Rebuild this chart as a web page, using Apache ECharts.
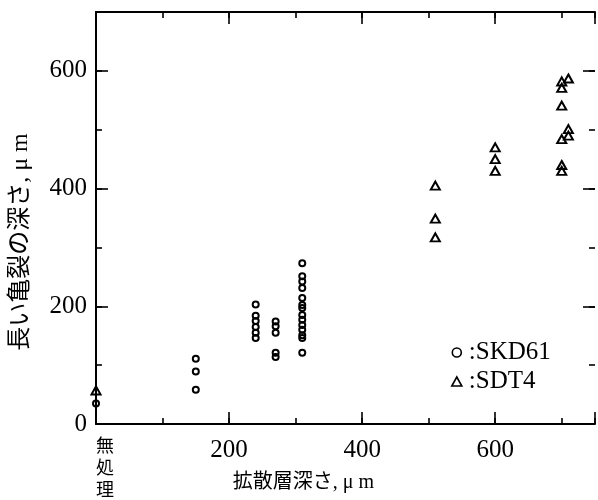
<!DOCTYPE html>
<html>
<head>
<meta charset="utf-8">
<script src="https://cdn.jsdelivr.net/npm/echarts@6/dist/echarts.min.js"></script>
<style>
  html, body { margin: 0; padding: 0; background: #fff; }
  #chart { width: 598px; height: 500px; }
</style>
</head>
<body>
<div id="chart"></div>
<script>
// Crack depth (μm) measured at each diffusion-layer depth (μm); 0 = untreated
const skd61Depths = [0, 150, 240, 270, 310];
const skd61Cracks = [
  [35],
  [111, 89, 58],
  [203, 184, 175, 165, 155, 146],
  [174, 166, 155, 121, 114],
  [273, 251, 242, 231, 214, 202, 197, 185, 177, 168, 160, 151, 146, 121]
];
const sdt4Depths = [0, 510, 600, 700, 710];
const sdt4Cracks = [
  [57],
  [405, 349, 317],
  [470, 450, 430],
  [582, 571, 541, 484, 440, 430],
  [587, 501, 490]
];

const seriesNames = ['SKD61', 'SDT4'];
const xTickLabels = [200, 400, 600];
const yTickLabels = [0, 200, 400, 600];
const untreatedLabel = '無処理';
const xAxisTitle = '拡散層深さ, μ m';
const yAxisTitle = '長い亀裂の深さ, μ m';

function toPoints(depths, groups) {
  const pts = [];
  depths.forEach((d, i) => groups[i].forEach(v => pts.push([d, v])));
  return pts;
}

const serif = "'Liberation Serif', 'Noto Sans CJK JP', serif";
const ink = '#000';
const X_MAX = 750, Y_MAX = 700;

// every frame side keeps its own position; tick marks point into the plot
function axisDef(position, max, interval, tickLen, frameWidth, extra) {
  return Object.assign({
    type: 'value', position: position, min: 0, max: max, interval: interval,
    axisLine: { show: frameWidth > 0, onZero: false, lineStyle: { color: ink, width: frameWidth || 1 } },
    axisTick: { show: true, inside: true, length: tickLen, lineStyle: { color: ink, width: 1.6 } },
    axisLabel: { show: false },
    splitLine: { show: false }
  }, extra || {});
}

const markerStyle = { color: 'transparent', borderColor: ink, borderWidth: 2, opacity: 1 };

const chart = echarts.init(document.getElementById('chart'), null, { renderer: 'canvas' });

chart.setOption({
  animation: false,
  backgroundColor: '#fff',
  grid: { left: 96, right: -1, top: 12, bottom: 73, containLabel: false },
  legend: {
    orient: 'vertical',
    left: 451, top: 340, padding: 0,
    itemWidth: 10, itemHeight: 9, itemGap: 4,
    data: [{ name: seriesNames[0], icon: 'circle' }, { name: seriesNames[1], icon: 'triangle' }],
    formatter: n => ':' + n,
    textStyle: { fontFamily: serif, fontSize: 25, color: ink, padding: [0, 0, 0, 2] },
    itemStyle: { color: 'transparent', borderColor: ink, borderWidth: 1.6, opacity: 1 }
  },
  xAxis: [
    axisDef('bottom', X_MAX, 200, 12, 2, {
      axisLabel: {
        show: true, margin: 14, fontFamily: serif, fontSize: 25, color: ink,
        formatter: v => xTickLabels.indexOf(v) >= 0 ? String(v) : ''
      },
      name: xAxisTitle, nameLocation: 'middle', nameGap: 49,
      nameTextStyle: { fontFamily: serif, fontSize: 20, color: ink, padding: [0, 84, 0, 0] }
    }),
    axisDef('bottom', X_MAX, 100, 6, 0, {
      axisLabel: {
        show: true, margin: 10, align: 'left', fontFamily: "'Noto Sans CJK JP', sans-serif",
        fontSize: 18, lineHeight: 22, color: ink,
        formatter: v => v === 0 ? untreatedLabel.split('').join('\n') : ''
      }
    }),
    axisDef('top', X_MAX, 200, 12, 2),
    axisDef('top', X_MAX, 100, 6, 0)
  ],
  yAxis: [
    axisDef('left', Y_MAX, 200, 12, 2, {
      axisLabel: {
        show: true, margin: 9, fontFamily: serif, fontSize: 25, color: ink,
        formatter: v => yTickLabels.indexOf(v) >= 0 ? String(v) : ''
      },
      name: yAxisTitle, nameLocation: 'middle', nameGap: 63,
      nameTextStyle: { fontFamily: serif, fontSize: 24, color: ink, padding: [0, 48, 0, 0] }
    }),
    axisDef('left', Y_MAX, 100, 6, 0),
    // right side sits on the page edge: only its tick marks show
    axisDef('right', Y_MAX, 200, 12, 0),
    axisDef('right', Y_MAX, 100, 6, 0)
  ],
  series: [
    {
      name: seriesNames[0], type: 'scatter', xAxisIndex: 0, yAxisIndex: 0,
      symbol: 'circle', symbolSize: 6,
      itemStyle: markerStyle,
      data: toPoints(skd61Depths, skd61Cracks)
    },
    {
      name: seriesNames[1], type: 'scatter', xAxisIndex: 0, yAxisIndex: 0,
      symbol: 'triangle', symbolSize: [9, 8],
      itemStyle: markerStyle,
      data: toPoints(sdt4Depths, sdt4Cracks)
    }
  ]
});
</script>
</body>
</html>
